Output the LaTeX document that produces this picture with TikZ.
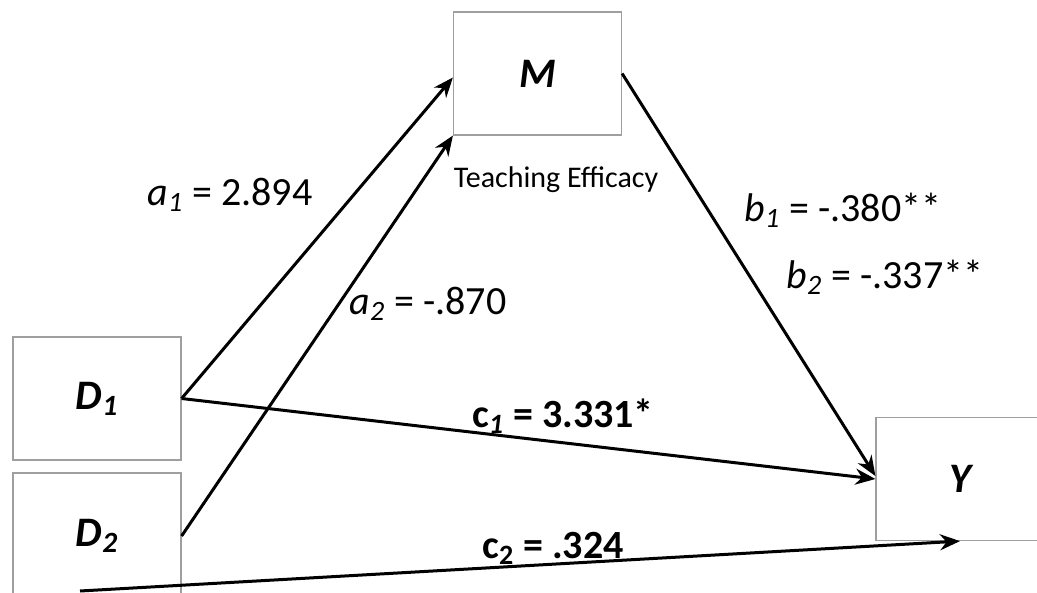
\documentclass[tikz,border=0pt]{standalone}
\usepackage{fontspec}
\setmainfont{Carlito}
\usetikzlibrary{positioning,arrows.meta}

\begin{document}
\begin{tikzpicture}[x=0.5pt,y=-0.5pt]
\tikzstyle{box}=[draw=gray!75, line width=0.6pt, minimum width=84pt, minimum height=61.5pt, font=\fontsize{21}{24}\selectfont\bfseries\itshape]
\tikzstyle{link}=[-{Stealth[length=10pt,width=8pt]}, line width=1.5pt]
\tikzstyle{lbl}=[font=\fontsize{20}{23}\selectfont, inner sep=0pt]
\useasboundingbox (0,0) rectangle (1037,593);
\clip (0,0) rectangle (1037,593);
% variables
\node[box] (D1) at (97,398.5) {D\textsubscript{1}};
\node[box, minimum height=63pt] (D2) at (97,536) {D\textsubscript{2}};
\node[box] (M) at (537.5,73.5) {M};
\node[box] (Y) at (960,479) {Y};
\node[font=\fontsize{15}{18}\selectfont, inner sep=0pt] (te) at (556,180) {Teaching Efficacy};
\coordinate (c2tail) at (80,591);
% paths
\draw[link] (D1.east) -- ([yshift=-2pt]M.west);
\draw[link] (D2.east) -- (M.south west);
\draw[link] (M.east) -- ([yshift=1.5pt]Y.west);
\draw[link] (D1.east) -- (Y.west);
\draw[link] (c2tail) -- (Y.south);
% coefficients
\node[lbl] (a1) at (230,195) {\textit{a\textsubscript{1}} = 2.894};
\node[lbl] (a2) at (428,304) {\textit{a\textsubscript{2}} = -.870};
\node[lbl] (b1) at (843,210) {\textit{b\textsubscript{1}} = -.380**};
\node[lbl] (b2) at (885,277) {\textit{b\textsubscript{2}} = -.337**};
\node[lbl, font=\fontsize{20}{23}\selectfont\bfseries] (c1) at (563,416) {c\textsubscript{\textit{1}} = 3.331*};
\node[lbl, font=\fontsize{20}{23}\selectfont\bfseries] (c2) at (553,548) {c\textsubscript{2} = .324};
\end{tikzpicture}
\end{document}
